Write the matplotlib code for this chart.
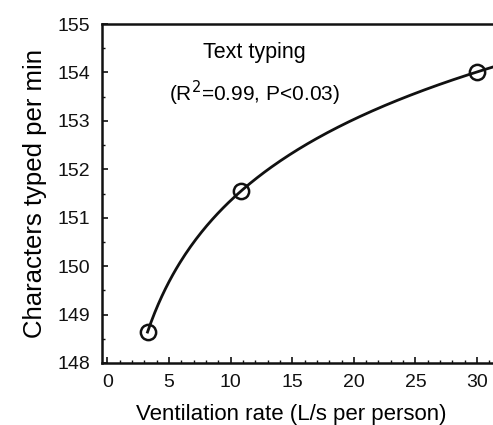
import matplotlib
matplotlib.use("Agg")
import matplotlib.pyplot as plt
import numpy as np
from matplotlib.ticker import MultipleLocator

plt.rcParams['font.family'] = ['Liberation Sans', 'DejaVu Sans']

# ventilation rate (L/s per person) and typing speed
vent_rate = np.array([3.25, 10.8, 30.0])
chars_per_min = np.array([148.63, 151.56, 154.0])

# logarithmic fit through the points
b, a = np.polyfit(np.log(vent_rate), chars_per_min, 1)

fig = plt.figure(figsize=(4.93, 4.25), dpi=100)
ax = fig.add_axes([0.2063, 0.1459, 0.7937, 0.7976])

xmin, xmax = -0.47, 31.3
xs = np.linspace(vent_rate[0], xmax + 1, 200)
ax.plot(xs, a + b * np.log(xs), color='#111111', lw=2)
ax.plot(vent_rate, chars_per_min, 'o', ms=11, mfc='none', mec='#111111', mew=1.8)

ax.set_xlim(xmin, xmax)
ax.set_ylim(148, 155)
ax.xaxis.set_major_locator(MultipleLocator(5))
ax.xaxis.set_minor_locator(MultipleLocator(1))
ax.yaxis.set_major_locator(MultipleLocator(1))
ax.yaxis.set_minor_locator(MultipleLocator(0.5))
ax.tick_params(which='both', direction='in', colors='#111111', labelsize=14)
ax.tick_params(which='major', length=4, width=1.2)
ax.tick_params(which='minor', length=2, width=1)
ax.tick_params(axis='x', pad=8)
ax.tick_params(axis='y', pad=8)
ax.spines['right'].set_visible(False)
for s in ('left', 'top', 'bottom'):
    ax.spines[s].set_linewidth(1.8)
    ax.spines[s].set_color('#111111')

ax.set_xlabel('Ventilation rate (L/s per person)', fontsize=16)
ax.xaxis.set_label_coords(0.484, -0.12)
ax.set_ylabel('Characters typed per min', fontsize=18.5, labelpad=8)

ax.text(0.39, 0.915, 'Text typing', transform=ax.transAxes, ha='center', va='center', fontsize=15.5)
ax.text(0.39, 0.795, '(R$^2$=0.99, P<0.03)', transform=ax.transAxes, ha='center', va='center', fontsize=15)

fig.savefig('out.png', dpi=100)
